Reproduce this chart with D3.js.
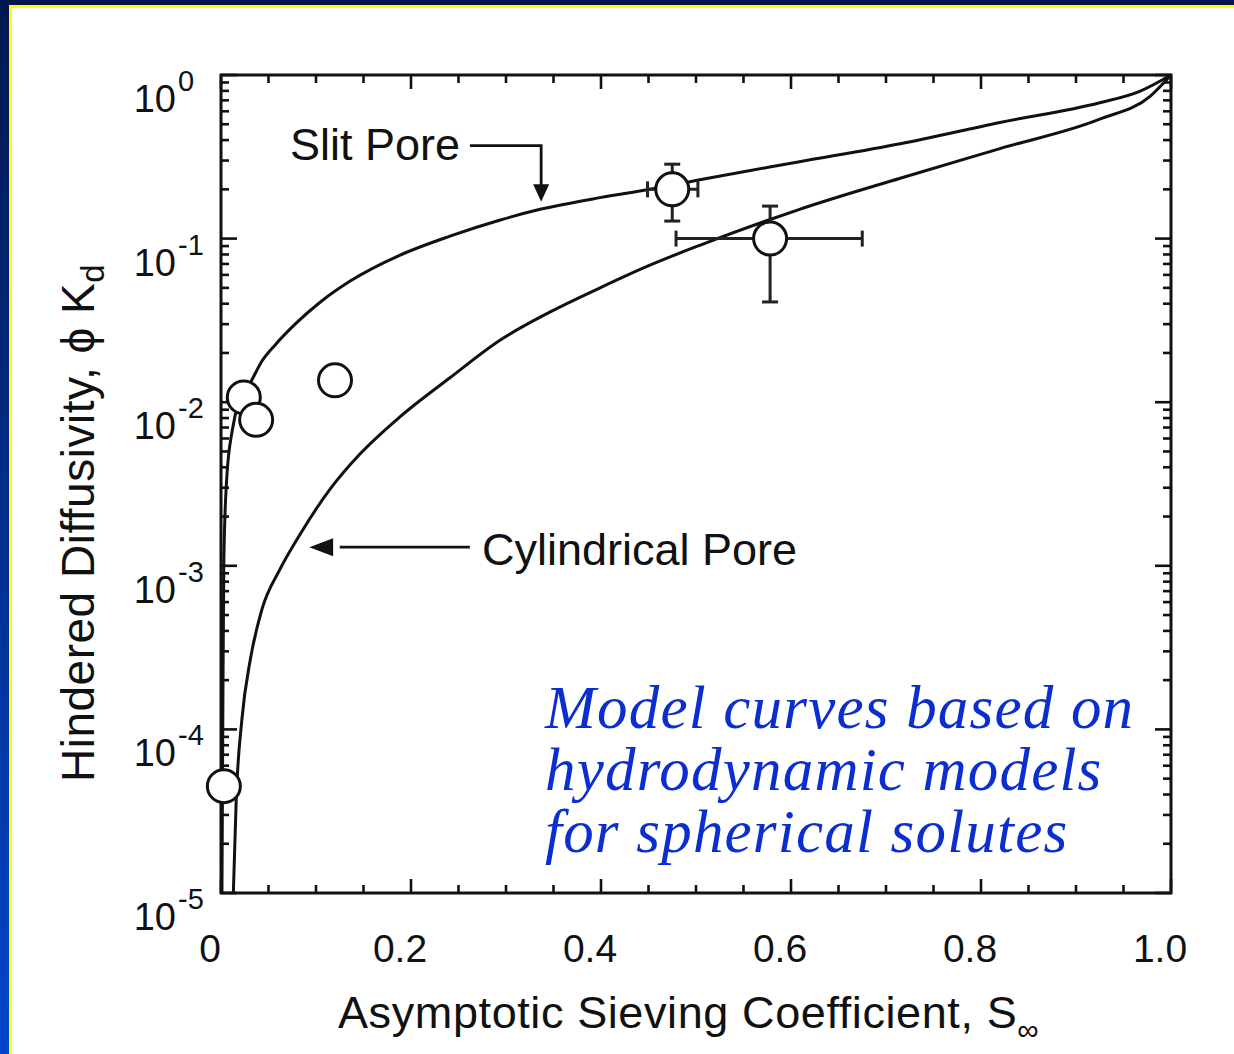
<!DOCTYPE html>
<html>
<head>
<meta charset="utf-8">
<script src="https://cdn.jsdelivr.net/npm/d3@7"></script>
<style>
  html, body { margin: 0; padding: 0; background: #001a52; }
  svg { display: block; }
  .lbl { font-family: "Liberation Sans", Arial, Helvetica, sans-serif; fill: #111; }
</style>
</head>
<body>
<svg id="chart" width="1234" height="1054"></svg>
<script>
// Slit-pore model curve: sieving coefficient vs hindered diffusivity
const slitS  = [0.001, 0.002, 0.003, 0.006, 0.012, 0.02, 0.031, 0.043, 0.057, 0.078, 0.104, 0.136, 0.188, 0.241, 0.294, 0.336, 0.399, 0.452, 0.504, 0.609, 0.715, 0.82, 0.925, 0.967, 1.0];
const slitKd = [1e-5, 1.5e-4, 1.1e-3, 3.4e-3, 6.8e-3, 0.0105, 0.0132, 0.0178, 0.0224, 0.030, 0.0407, 0.055, 0.079, 0.1035, 0.130, 0.151, 0.178, 0.2, 0.229, 0.295, 0.38, 0.513, 0.676, 0.794, 1.0];

// Cylindrical-pore model curve
const cylS  = [0.013, 0.016, 0.022, 0.031, 0.043, 0.062, 0.083, 0.115, 0.146, 0.188, 0.241, 0.294, 0.346, 0.399, 0.452, 0.504, 0.575, 0.609, 0.715, 0.82, 0.925, 0.978, 1.0];
const cylKd = [1e-5, 3.7e-5, 1.15e-4, 2.7e-4, 5.4e-4, 9.5e-4, 1.55e-3, 2.95e-3, 4.8e-3, 8.1e-3, 0.0141, 0.024, 0.0355, 0.050, 0.069, 0.091, 0.129, 0.151, 0.234, 0.355, 0.537, 0.741, 1.0];

// Measured solutes
const pointS  = [0.024, 0.037, 0.12, 0.003, 0.475, 0.578];
const pointKd = [0.0107, 0.0078, 0.0136, 4.5e-5, 0.2, 0.1];

// Error bars for the two solutes that carry them
const errS      = [0.475, 0.578];
const errKd     = [0.2, 0.1];
const errSLow   = [0.449, 0.479];
const errSHigh  = [0.502, 0.675];
const errKdLow  = [0.128, 0.041];
const errKdHigh = [0.285, 0.158];

// Axis ticks
const xTickValues = [0, 0.2, 0.4, 0.6, 0.8, 1.0];
const xTickLabels = ["0", "0.2", "0.4", "0.6", "0.8", "1.0"];
const yTickValues = [1, 1e-1, 1e-2, 1e-3, 1e-4, 1e-5];
const yTickExps   = ["0", "-1", "-2", "-3", "-4", "-5"];

(function draw() {
  const svg = d3.select("#chart");
  const W = 1234, H = 1054;

  // Backdrop: blue gradient frame, yellow rule, white sheet
  const defs = svg.append("defs");
  const grad = defs.append("linearGradient").attr("id", "bg").attr("x1", 0).attr("y1", 0).attr("x2", 0).attr("y2", 1);
  grad.append("stop").attr("offset", "0%").attr("stop-color", "#00184e");
  grad.append("stop").attr("offset", "100%").attr("stop-color", "#0046cc");
  svg.append("rect").attr("width", W).attr("height", H).attr("fill", "url(#bg)");
  svg.append("rect").attr("x", 9).attr("y", 5).attr("width", W).attr("height", H).attr("fill", "#ffff00");
  svg.append("rect").attr("x", 12).attr("y", 8).attr("width", W).attr("height", H).attr("fill", "#ffffff");

  // Plot frame
  const pl = 221, pr = 1171, pt = 75, pb = 893;
  const x = d3.scaleLinear().domain([0, 1]).range([pl, pr]);
  const y = d3.scaleLog().domain([1e-5, 1]).range([pb, pt]);

  const g = svg.append("g");

  // Inward ticks on all four sides
  const xMinor = d3.range(0, 1.0001, 0.05).map(v => +v.toFixed(2));
  const xMajorSet = new Set(xTickValues.map(v => v.toFixed(2)));
  const yMinor = [];
  for (let e = -5; e < 0; e++) for (let m = 1; m < 10; m++) yMinor.push(m * Math.pow(10, e));
  yMinor.push(1);

  const tickStyle = sel => sel.attr("stroke", "#111").attr("stroke-width", 2.6);

  xMinor.forEach(v => {
    const len = xMajorSet.has(v.toFixed(2)) ? 14 : 8;
    tickStyle(g.append("line").attr("x1", x(v)).attr("x2", x(v)).attr("y1", pb).attr("y2", pb - len));
    tickStyle(g.append("line").attr("x1", x(v)).attr("x2", x(v)).attr("y1", pt).attr("y2", pt + len));
  });
  yMinor.forEach(v => {
    const isMajor = Math.abs(Math.log10(v) - Math.round(Math.log10(v))) < 1e-9;
    const len = isMajor ? 16 : 8;
    tickStyle(g.append("line").attr("x1", pl).attr("x2", pl + len).attr("y1", y(v)).attr("y2", y(v)));
    tickStyle(g.append("line").attr("x1", pr).attr("x2", pr - len).attr("y1", y(v)).attr("y2", y(v)));
  });

  g.append("rect")
    .attr("x", pl).attr("y", pt)
    .attr("width", pr - pl).attr("height", pb - pt)
    .attr("fill", "none").attr("stroke", "#111").attr("stroke-width", 3);

  // Tick labels
  xTickValues.forEach((v, i) => {
    g.append("text").attr("class", "lbl")
      .attr("x", x(v) - 11).attr("y", 962)
      .attr("text-anchor", "middle")
      .attr("font-size", 39)
      .text(xTickLabels[i]);
  });
  yTickValues.forEach((v, i) => {
    const yy = y(v);
    g.append("text").attr("class", "lbl")
      .attr("x", 176).attr("y", yy + 37)
      .attr("text-anchor", "end")
      .attr("font-size", 38)
      .text("10");
    g.append("text").attr("class", "lbl")
      .attr("x", 178).attr("y", yy + 16)
      .attr("text-anchor", "start")
      .attr("font-size", 29)
      .text(yTickExps[i]);
  });

  // Axis titles
  const xt = g.append("text").attr("class", "lbl")
    .attr("x", 338).attr("y", 1028)
    .attr("font-size", 45)
    .attr("letter-spacing", 0.6);
  xt.append("tspan").text("Asymptotic Sieving Coefficient, S");
  xt.append("tspan").attr("font-size", 30).attr("dy", 12).text("\u221e");

  const yt = g.append("text").attr("class", "lbl")
    .attr("transform", "translate(94,782) rotate(-90)")
    .attr("font-size", 46)
    .attr("letter-spacing", 0.5);
  yt.append("tspan").text("Hindered Diffusivity,  \u03d5 K");
  yt.append("tspan").attr("font-size", 33).attr("dy", 10).text("d");

  // Model curves
  const line = d3.line().x(d => x(d[0])).y(d => y(d[1])).curve(d3.curveMonotoneX);
  g.append("path").datum(slitS.map((s, i) => [s, slitKd[i]]))
    .attr("d", line).attr("fill", "none").attr("stroke", "#111").attr("stroke-width", 3);
  g.append("path").datum(cylS.map((s, i) => [s, cylKd[i]]))
    .attr("d", line).attr("fill", "none").attr("stroke", "#111").attr("stroke-width", 3);

  // Annotations with arrows
  const ann = { stroke: "#111", width: 2.8 };
  // Slit Pore label: elbow arrow pointing down onto the slit curve
  g.append("text").attr("class", "lbl").attr("x", 290).attr("y", 160).attr("font-size", 45).text("Slit Pore");
  const slitArrowS = 0.337;
  g.append("path")
    .attr("d", `M${x(0.262)},${y(0.37)} H${x(slitArrowS)} V${y(0.21)}`)
    .attr("fill", "none").attr("stroke", ann.stroke).attr("stroke-width", ann.width);
  g.append("path")
    .attr("d", `M${x(slitArrowS) - 8},${y(0.215)} L${x(slitArrowS) + 8},${y(0.215)} L${x(slitArrowS)},${y(0.168)} Z`)
    .attr("fill", "#111");

  // Cylindrical Pore label: arrow pointing left onto the cylinder curve
  g.append("text").attr("class", "lbl").attr("x", 482).attr("y", 565).attr("font-size", 45).text("Cylindrical Pore");
  const cylArrowKd = 1.3e-3;
  g.append("line")
    .attr("x1", x(0.262)).attr("x2", x(0.125))
    .attr("y1", y(cylArrowKd)).attr("y2", y(cylArrowKd))
    .attr("stroke", ann.stroke).attr("stroke-width", ann.width);
  g.append("path")
    .attr("d", `M${x(0.118)},${y(cylArrowKd) - 9} L${x(0.118)},${y(cylArrowKd) + 9} L${x(0.093)},${y(cylArrowKd)} Z`)
    .attr("fill", "#111");

  // Error bars
  const eb = g.append("g").attr("stroke", "#222").attr("stroke-width", 3).attr("fill", "none");
  errS.forEach((s, i) => {
    const cx = x(s), cy = y(errKd[i]);
    eb.append("line").attr("x1", cx).attr("x2", cx).attr("y1", y(errKdLow[i])).attr("y2", y(errKdHigh[i]));
    eb.append("line").attr("x1", cx - 8).attr("x2", cx + 8).attr("y1", y(errKdLow[i])).attr("y2", y(errKdLow[i]));
    eb.append("line").attr("x1", cx - 8).attr("x2", cx + 8).attr("y1", y(errKdHigh[i])).attr("y2", y(errKdHigh[i]));
    eb.append("line").attr("x1", x(errSLow[i])).attr("x2", x(errSHigh[i])).attr("y1", cy).attr("y2", cy);
    eb.append("line").attr("x1", x(errSLow[i])).attr("x2", x(errSLow[i])).attr("y1", cy - 8).attr("y2", cy + 8);
    eb.append("line").attr("x1", x(errSHigh[i])).attr("x2", x(errSHigh[i])).attr("y1", cy - 8).attr("y2", cy + 8);
  });

  // Data markers (open circles)
  g.selectAll("circle.pt").data(pointS.map((s, i) => [s, pointKd[i]]))
    .enter().append("circle").attr("class", "pt")
    .attr("cx", d => x(d[0])).attr("cy", d => y(d[1]))
    .attr("r", 16.5)
    .attr("fill", "#fff").attr("stroke", "#111").attr("stroke-width", 3);

  // Blue caption
  const caption = ["Model curves based on", "hydrodynamic models", "for spherical solutes"];
  g.selectAll("text.cap").data(caption).enter().append("text").attr("class", "cap")
    .attr("x", 545).attr("y", (d, i) => 728 + i * 62)
    .attr("font-family", "'Liberation Serif', 'Times New Roman', serif")
    .attr("font-style", "italic")
    .attr("font-size", 61)
    .attr("letter-spacing", 1.2)
    .attr("fill", "#0a2ecf")
    .text(d => d);
})();
</script>
</body>
</html>
